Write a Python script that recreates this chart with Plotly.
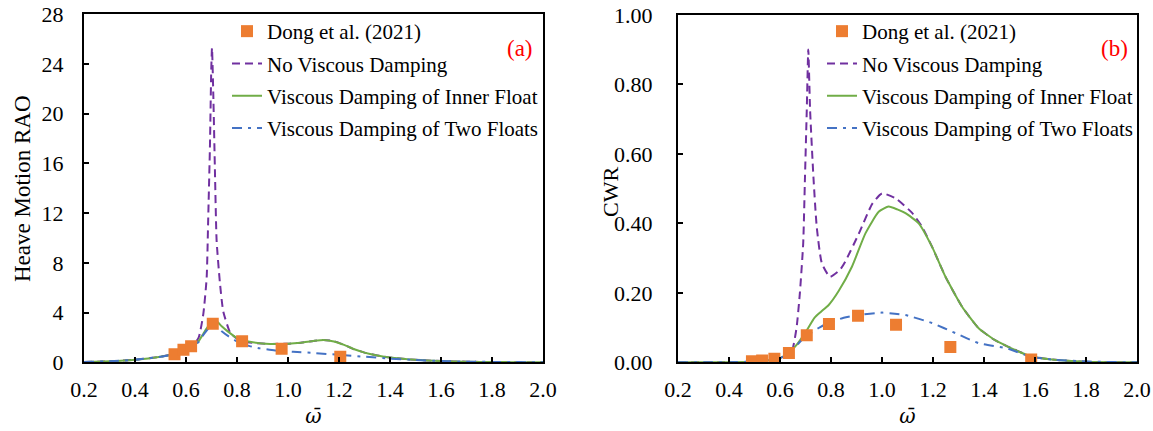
import plotly.graph_objects as go

W, H = 1153, 431

# ---------------- Data: panel (a) Heave Motion RAO ----------------
a_dong_x = [0.555, 0.59, 0.62, 0.705, 0.82, 0.975, 1.205]
a_dong_y = [0.65, 1.0, 1.3, 3.1, 1.7, 1.1, 0.45]

a_nv_x = [0.2, 0.3, 0.4, 0.5, 0.55, 0.6, 0.63, 0.65, 0.668, 0.681, 0.687, 0.694, 0.699, 0.702,
          0.707, 0.714, 0.72, 0.733, 0.746, 0.773, 0.8, 0.83, 0.87, 0.93, 1.0, 1.05, 1.1, 1.14,
          1.18, 1.22, 1.26, 1.3, 1.35, 1.4, 1.5, 1.6, 1.7, 1.8, 1.9, 2.0]
a_nv_y = [0.03, 0.08, 0.2, 0.45, 0.65, 1.0, 1.4, 2.0, 3.9, 6.8, 11.5, 17.5, 23.5, 25.3,
          21.6, 14.9, 9.8, 6.4, 4.1, 2.4, 1.9, 1.65, 1.55, 1.48, 1.5, 1.58, 1.72, 1.8,
          1.7, 1.4, 1.05, 0.78, 0.55, 0.38, 0.2, 0.1, 0.05, 0.02, 0.01, 0.005]

a_in_x = [0.2, 0.3, 0.4, 0.5, 0.55, 0.6, 0.63, 0.648, 0.668, 0.687, 0.705, 0.72, 0.74, 0.76,
          0.8, 0.85, 0.93, 1.0, 1.05, 1.1, 1.14, 1.18, 1.22, 1.26, 1.3, 1.35, 1.4, 1.5, 1.6,
          1.7, 1.8, 1.9, 2.0]
a_in_y = [0.03, 0.08, 0.2, 0.45, 0.65, 1.0, 1.35, 1.66, 2.3, 2.9, 3.25, 3.3, 2.9, 2.55,
          1.95, 1.66, 1.47, 1.5, 1.58, 1.72, 1.8, 1.68, 1.4, 1.05, 0.78, 0.55, 0.38, 0.2, 0.1,
          0.05, 0.02, 0.01, 0.005]

a_two_x = [0.2, 0.3, 0.4, 0.5, 0.55, 0.6, 0.63, 0.648, 0.668, 0.687, 0.705, 0.72, 0.74, 0.766,
           0.812, 0.85, 0.89, 0.95, 1.02, 1.1, 1.2, 1.3, 1.4, 1.5, 1.6, 1.7, 1.8, 1.9, 2.0]
a_two_y = [0.03, 0.08, 0.2, 0.45, 0.65, 1.0, 1.35, 1.6, 2.2, 2.7, 2.95, 2.85, 2.5, 2.1,
           1.53, 1.3, 1.12, 0.95, 0.85, 0.75, 0.6, 0.45, 0.3, 0.18, 0.1, 0.05, 0.03, 0.015, 0.008]

# ---------------- Data: panel (b) CWR ----------------
b_dong_x = [0.49, 0.53, 0.578, 0.635, 0.705, 0.792, 0.906, 1.055, 1.268, 1.585]
b_dong_y = [0.003, 0.005, 0.01, 0.027, 0.078, 0.11, 0.134, 0.108, 0.044, 0.008]

b_nv_x = [0.2, 0.4, 0.5, 0.55, 0.6, 0.625, 0.646, 0.665, 0.678, 0.691, 0.698, 0.705, 0.711,
          0.718, 0.731, 0.744, 0.764, 0.796, 0.835, 0.856, 0.909, 0.961, 1.0, 1.053, 1.118,
          1.157, 1.196, 1.249, 1.314, 1.379, 1.44, 1.491, 1.578, 1.666, 1.78, 1.9, 2.0]
b_nv_y = [0.0, 0.0, 0.002, 0.005, 0.012, 0.02, 0.03, 0.10, 0.2, 0.342, 0.534, 0.726, 0.90,
          0.726, 0.534, 0.39, 0.285, 0.246, 0.266, 0.29, 0.37, 0.455, 0.486, 0.472, 0.43,
          0.39, 0.333, 0.246, 0.16, 0.098, 0.065, 0.046, 0.019, 0.008, 0.002, 0.0, 0.0]

b_in_x = [0.2, 0.4, 0.5, 0.55, 0.6, 0.634, 0.665, 0.705, 0.735, 0.76, 0.791, 0.83, 0.882,
          0.935, 0.987, 1.026, 1.06, 1.092, 1.144, 1.196, 1.249, 1.314, 1.379, 1.44, 1.491,
          1.578, 1.666, 1.78, 1.9, 2.0]
b_in_y = [0.0, 0.0, 0.002, 0.005, 0.012, 0.027, 0.05, 0.092, 0.128, 0.145, 0.165, 0.205, 0.275,
          0.371, 0.433, 0.448, 0.44, 0.429, 0.40, 0.333, 0.246, 0.16, 0.098, 0.065, 0.046,
          0.019, 0.008, 0.002, 0.0, 0.0]

b_two_x = [0.2, 0.4, 0.5, 0.55, 0.6, 0.634, 0.70, 0.75, 0.791, 0.85, 0.906, 1.0, 1.05, 1.092,
           1.196, 1.288, 1.379, 1.491, 1.578, 1.666, 1.81, 2.0]
b_two_y = [0.0, 0.0, 0.002, 0.005, 0.012, 0.026, 0.074, 0.098, 0.114, 0.128, 0.136, 0.143, 0.14,
           0.136, 0.113, 0.084, 0.055, 0.04, 0.017, 0.008, 0.002, 0.0]

x_ticks = [0.2, 0.4, 0.6, 0.8, 1.0, 1.2, 1.4, 1.6, 1.8, 2.0]
x_ticktext = ["0.2", "0.4", "0.6", "0.8", "1.0", "1.2", "1.4", "1.6", "1.8", "2.0"]
a_yticks = [0, 4, 8, 12, 16, 20, 24, 28]
b_yticks = [0.0, 0.2, 0.4, 0.6, 0.8, 1.0]
b_yticktext = ["0.00", "0.20", "0.40", "0.60", "0.80", "1.00"]

names = ["Dong et al. (2021)", "No Viscous Damping", "Viscous Damping of Inner Float",
         "Viscous Damping of Two Floats"]

# ---------------- Styles ----------------
FONT = "Liberation Serif, Times New Roman, serif"
OMEGA_FONT = "DejaVu Serif, serif"
C_DONG = "#ED7D31"
C_NV = "#7030A0"
C_IN = "#70AD47"
C_TWO = "#4472C4"


def px_x(p):
    return p / W


def px_y(p):
    return 1 - p / H


fig = go.Figure()


def add_panel(xa, ya, leg, dx, dy, nvx, nvy, inx, iny, twx, twy):
    fig.add_trace(go.Scatter(x=nvx, y=nvy, mode="lines", name=names[1], xaxis=xa, yaxis=ya,
                             legend=leg, legendrank=2, legendgroup=leg + "nv",
                             line=dict(color=C_NV, width=2, dash="8px,5px", shape="spline", smoothing=0.5)))
    fig.add_trace(go.Scatter(x=inx, y=iny, mode="lines", name=names[2], xaxis=xa, yaxis=ya,
                             legend=leg, legendrank=3, legendgroup=leg + "in",
                             line=dict(color=C_IN, width=2, shape="spline", smoothing=0.5)))
    fig.add_trace(go.Scatter(x=twx, y=twy, mode="lines", name=names[3], xaxis=xa, yaxis=ya,
                             legend=leg, legendrank=4, legendgroup=leg + "two",
                             line=dict(color=C_TWO, width=2, dash="10px,6px,3px,6px", shape="spline", smoothing=0.5)))
    fig.add_trace(go.Scatter(x=dx, y=dy, mode="markers", name=names[0], xaxis=xa, yaxis=ya,
                             legend=leg, legendrank=1, legendgroup=leg + "dong",
                             marker=dict(symbol="square", size=12, color=C_DONG)))


add_panel("x", "y", "legend", a_dong_x, a_dong_y, a_nv_x, a_nv_y, a_in_x, a_in_y, a_two_x, a_two_y)
add_panel("x2", "y2", "legend2", b_dong_x, b_dong_y, b_nv_x, b_nv_y, b_in_x, b_in_y, b_two_x, b_two_y)

axis_common = dict(showgrid=False, zeroline=False, showline=True, linecolor="black", linewidth=2,
                   mirror=True, ticks="inside", ticklen=5, tickwidth=2, tickcolor="black",
                   automargin=False,
                   tickfont=dict(family=FONT, size=22, color="black"))

legend_common = dict(xanchor="left", yanchor="top", bgcolor="rgba(0,0,0,0)",
                     font=dict(family=FONT, size=21, color="black"), traceorder="grouped",
                     tracegroupgap=2, itemwidth=30)

ann_common = dict(xref="paper", yref="paper", xanchor="center", yanchor="middle", showarrow=False)

fig.update_layout(
    width=W, height=H,
    margin=dict(l=0, r=0, t=0, b=0, autoexpand=False),
    paper_bgcolor="white", plot_bgcolor="white",
    font=dict(family=FONT, size=21, color="black"),
    showlegend=True,
    xaxis=dict(domain=[px_x(84), px_x(543)], range=[0.2, 2.0], tickvals=x_ticks, ticktext=x_ticktext,
               anchor="y", ticklabelstandoff=6,
               title=dict(text="<i>ω̄</i>", font=dict(family=OMEGA_FONT, size=20), standoff=8),
               **axis_common),
    yaxis=dict(domain=[px_y(362.3), px_y(14.3)], range=[0, 28], tickvals=a_yticks, anchor="x",
               ticklabelstandoff=14, **axis_common),
    xaxis2=dict(domain=[px_x(678), px_x(1137)], range=[0.2, 2.0], tickvals=x_ticks, ticktext=x_ticktext,
                anchor="y2", ticklabelstandoff=6,
                title=dict(text="<i>ω̄</i>", font=dict(family=OMEGA_FONT, size=20), standoff=8),
                **axis_common),
    yaxis2=dict(domain=[px_y(362.3), px_y(14.8)], range=[0, 1.0], tickvals=b_yticks, ticktext=b_yticktext,
                anchor="x2", ticklabelstandoff=19, **axis_common),
    legend=dict(x=px_x(227), y=px_y(11), **legend_common),
    legend2=dict(x=px_x(822), y=px_y(11), **legend_common),
    annotations=[
        dict(text="Heave Motion RAO", x=px_x(22), y=px_y(189), textangle=-90,
             font=dict(family=FONT, size=23, color="black"), **ann_common),
        dict(text="CWR", x=px_x(610), y=px_y(192), textangle=-90,
             font=dict(family=FONT, size=22, color="black"), **ann_common),
        dict(text="(a)", x=px_x(520), y=px_y(48),
             font=dict(family=FONT, size=23, color="red"), **ann_common),
        dict(text="(b)", x=px_x(1114), y=px_y(48),
             font=dict(family=FONT, size=23, color="red"), **ann_common),
    ],
)

fig.write_html("out.html", config={"displayModeBar": False},
               post_script="document.body.style.margin='0px';")
